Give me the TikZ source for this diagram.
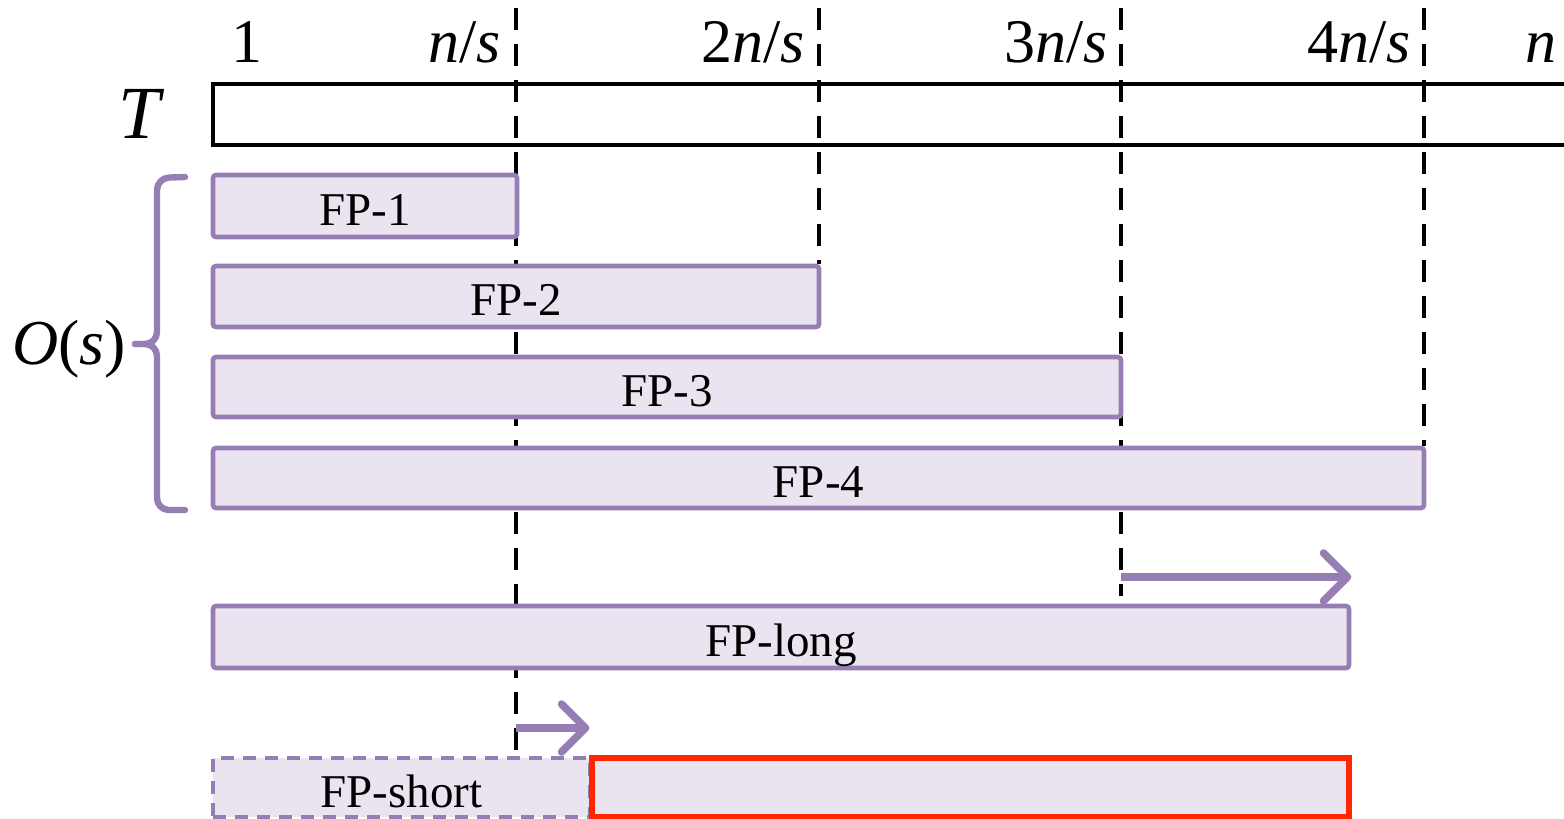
\documentclass[tikz,border=0pt]{standalone}
\usepackage{fontspec}
\setmainfont{Liberation Serif}
\usetikzlibrary{arrows.meta,fit,backgrounds}
\definecolor{fpline}{RGB}{150,126,180}
\definecolor{fpfill}{RGB}{234,228,240}
\definecolor{hotred}{RGB}{255,38,0}
\tikzset{
  fpbox/.style={draw=fpline, fill=fpfill, line width=2.3pt, rounded corners=1.5pt,
    inner sep=0pt},
  fptext/.style={anchor=base, inner sep=0pt, yshift=-9.5pt,
    font=\fontsize{23.5}{24}\selectfont},
  tbox/.style={draw=black, line width=2.4pt, inner sep=0pt},
  guide/.style={draw=black, line width=2.4pt, dash pattern=on 11pt off 7pt},
  ticklabel/.style={anchor=base east, inner sep=0pt, font=\fontsize{31}{31}\selectfont},
  shift arrow/.style={draw=fpline, line width=3.8pt, line cap=butt,
    -{Straight Barb[length=12pt,width=24pt,round]}},
  bracket/.style={draw=fpline, line width=3.2pt, rounded corners=6pt, line cap=round},
}
\begin{document}
\begin{tikzpicture}[x=0.5pt, y=-0.5pt]
\useasboundingbox (0,0) rectangle (1564,819);
\clip (0,0) rectangle (1564,819);

% tops of the n/s guides
\coordinate (g1) at (516,8);
\coordinate (g2) at (819,8);
\coordinate (g3) at (1121,8);
\coordinate (g4) at (1424,8);

% the array T
\node[tbox, fit={(213,84) (1600,145)}] (T) {};
\node[anchor=base, inner sep=0pt, font=\fontsize{37.5}{38}\selectfont\itshape] (Tlabel) at (139,138) {T};

% column labels
\node[anchor=base, inner sep=0pt, font=\fontsize{31}{31}\selectfont] (l1) at (247,62) {1};
\node[ticklabel] (l2) at (501,62) {\textit{n}/\textit{s}};
\node[ticklabel] (l3) at (805,62) {2\textit{n}/\textit{s}};
\node[ticklabel] (l4) at (1108,62) {3\textit{n}/\textit{s}};
\node[ticklabel] (l5) at (1411,62) {4\textit{n}/\textit{s}};
\node[ticklabel] (l6) at (1557,62) {\textit{n}};

% fingerprint blocks
\node[fpbox, fit={(213,175) (517,237)}] (fp1) {};
\node[fpbox, fit={(213,266) (819,327)}] (fp2) {};
\node[fpbox, fit={(213,357) (1121,417)}] (fp3) {};
\node[fpbox, fit={(213,448) (1424,508)}] (fp4) {};
\node[fpbox, fit={(213,606) (1349,668)}] (fplong) {};
\node[fpbox, dash pattern=on 6.5pt off 4.5pt, rounded corners=0pt, fit={(213,758) (590,817)}] (fpshort) {};
\node[fpbox, draw=hotred, line width=2.6pt, rounded corners=0pt, fit={(592,758) (1349,817)}] (ext) {};

\node[fptext] (t1) at (fp1.center) {FP-1};
\node[fptext] (t2) at (fp2.center) {FP-2};
\node[fptext] (t3) at (fp3.center) {FP-3};
\node[fptext] (t4) at (fp4.center) {FP-4};
\node[fptext] (tl) at (fplong.center) {FP-long};
\node[fptext] (ts) at ([yshift=-0.5pt]fpshort.center) {FP-short};

% dashed guides, behind the blocks
\begin{scope}[on background layer]
\draw[guide] (g1) -- (g1 |- fpshort.north);
\draw[guide] (g2) -- (g2 |- fp2.north);
\draw[guide] (g3) -- ([yshift=4pt]g3 |- fplong.north);
\draw[guide] (g4) -- (g4 |- fp4.north);
\end{scope}

% brace grouping the O(s) blocks
\draw[bracket] (185,177) -- (157,178) -- (157,344) -- (135,344);
\draw[bracket] (135,344) -- (157,344) -- (157,510) -- (185,510);
\node[anchor=base, inner sep=0pt, font=\fontsize{32}{32}\selectfont] (Os) at (69,364) {\textit{O}(\textit{s})};

% shift arrows
\coordinate (a1) at (1121,577);
\coordinate (a2) at (516,728);
\draw[shift arrow] (a1) -- (a1 -| fplong.east);
\draw[shift arrow] (a2) -- (a2 -| ext.west);
\end{tikzpicture}
\end{document}
